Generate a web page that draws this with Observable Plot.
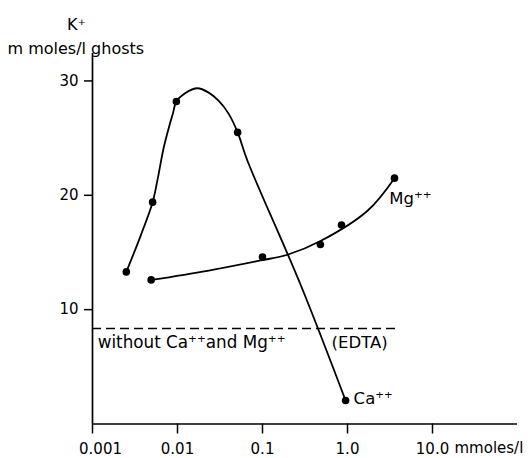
<!DOCTYPE html>
<html>
<head>
<meta charset="utf-8">
<script src="https://cdn.jsdelivr.net/npm/d3@7"></script>
<script src="https://cdn.jsdelivr.net/npm/@observablehq/plot@0.6"></script>
<style>
  html, body { margin: 0; padding: 0; background: white; }
</style>
</head>
<body>
<div id="chart"></div>
<script>
// Measured points (concentration in mmoles/l, K+ in mmoles/l ghosts)
const caX = [0.0025, 0.0051, 0.0097, 0.051, 0.95];
const caY = [13.3, 19.4, 28.2, 25.5, 2.05];
const mgX = [0.0049, 0.1, 0.48, 0.85, 3.57];
const mgY = [12.6, 14.6, 15.7, 17.4, 21.5];

// Hand-drawn curve traces
const caCurveX = [0.0025, 0.0037, 0.0051, 0.0058, 0.0069, 0.0081, 0.0088, 0.0097, 0.0124, 0.0171, 0.0233, 0.0306, 0.0402, 0.051, 0.0667, 0.28, 0.95];
const caCurveY = [13.3, 16.5, 19.4, 21.3, 24.2, 26.2, 27.1, 28.2, 28.95, 29.36, 28.98, 28.25, 27.1, 25.5, 23.0, 12.2, 2.05];
const mgCurveX = [0.0049, 0.0225, 0.0946, 0.197, 0.481, 1.72, 3.57];
const mgCurveY = [12.6, 13.4, 14.3, 14.8, 16.0, 18.65, 21.5];

// EDTA reference level
const edtaLevel = 8.35;
const edtaEnd = 4.2;

// Ticks
const xTicks = [0.001, 0.01, 0.1, 1, 10];
const xTickLabels = ["0.001", "0.01", "0.1", "1.0", "10.0"];
const yTicks = [10, 20, 30];

const ca = caX.map((x, i) => ({x, y: caY[i]}));
const mg = mgX.map((x, i) => ({x, y: mgY[i]}));
const caCurve = caCurveX.map((x, i) => ({x, y: caCurveY[i]}));
const mgCurve = mgCurveX.map((x, i) => ({x, y: mgCurveY[i]}));

const font = "DejaVu Sans";
const fmtX = d => xTickLabels[xTicks.indexOf(d)];

const chart = Plot.plot({
  width: 528,
  height: 458,
  marginLeft: 92,
  marginRight: 11,
  marginTop: 53,
  marginBottom: 34.5,
  x: {type: "log", domain: [0.001, 100]},
  y: {domain: [0, 32.4]},
  style: {fontFamily: font, fontSize: "15px", color: "black", background: "white"},
  marks: [
    Plot.ruleY([0], {stroke: "black", strokeWidth: 1.7}),
    Plot.ruleX([0.001], {stroke: "black", strokeWidth: 1.7}),
    // tick lines
    Plot.axisX(xTicks, {tickSize: 10, text: null, label: null, strokeWidth: 1.5}),
    // tick labels (first one sits slightly right of its tick, as in the original)
    Plot.axisX(xTicks.slice(1), {tickSize: 0, tickPadding: 19, fontSize: 15, label: null, tickFormat: fmtX}),
    Plot.axisX(xTicks.slice(0, 1), {tickSize: 0, tickPadding: 19, dx: 8, fontSize: 15, label: null, tickFormat: fmtX}),
    Plot.axisY(yTicks, {tickSize: 8, tickPadding: 6, fontSize: 15, label: null, strokeWidth: 1.5, tickFormat: d => String(d)}),
    Plot.ruleY([edtaLevel], {x1: 0.001, x2: edtaEnd, stroke: "black", strokeWidth: 1.3, strokeDasharray: "9,5"}),
    Plot.line(caCurve, {x: "x", y: "y", curve: "catmull-rom", stroke: "black", strokeWidth: 1.8}),
    Plot.line(mgCurve, {x: "x", y: "y", curve: "catmull-rom", stroke: "black", strokeWidth: 1.8}),
    Plot.dot(ca, {x: "x", y: "y", r: 3.8, fill: "black", stroke: "none"}),
    Plot.dot(mg, {x: "x", y: "y", r: 3.8, fill: "black", stroke: "none"}),
    Plot.text(["without Ca\u207A\u207Aand Mg\u207A\u207A"], {x: 0.00115, y: 7.1, text: d => d, textAnchor: "start", fontSize: 16.8}),
    Plot.text(["(EDTA)"], {x: 0.65, y: 7.1, text: d => d, textAnchor: "start", fontSize: 16.5}),
    Plot.text(["Ca\u207A\u207A"], {x: 0.95, y: 2.05, text: d => d, textAnchor: "start", dx: 8, dy: -2, fontSize: 16.5}),
    Plot.text(["Mg\u207A\u207A"], {x: 3.1, y: 19.7, text: d => d, textAnchor: "start", fontSize: 16.5}),
    Plot.text(["mmoles/l"], {x: 10, y: 0, text: d => d, textAnchor: "start", dx: 22, dy: 24, fontSize: 15, clip: false}),
    Plot.text(["K\u207A"], {frameAnchor: "top-left", text: d => d, textAnchor: "middle", dx: -16, dy: -35, fontSize: 16}),
    Plot.text(["m moles/l ghosts"], {frameAnchor: "top-left", text: d => d, textAnchor: "start", dx: -85, dy: -11, fontSize: 16})
  ]
});

document.getElementById("chart").appendChild(chart);
</script>
</body>
</html>
